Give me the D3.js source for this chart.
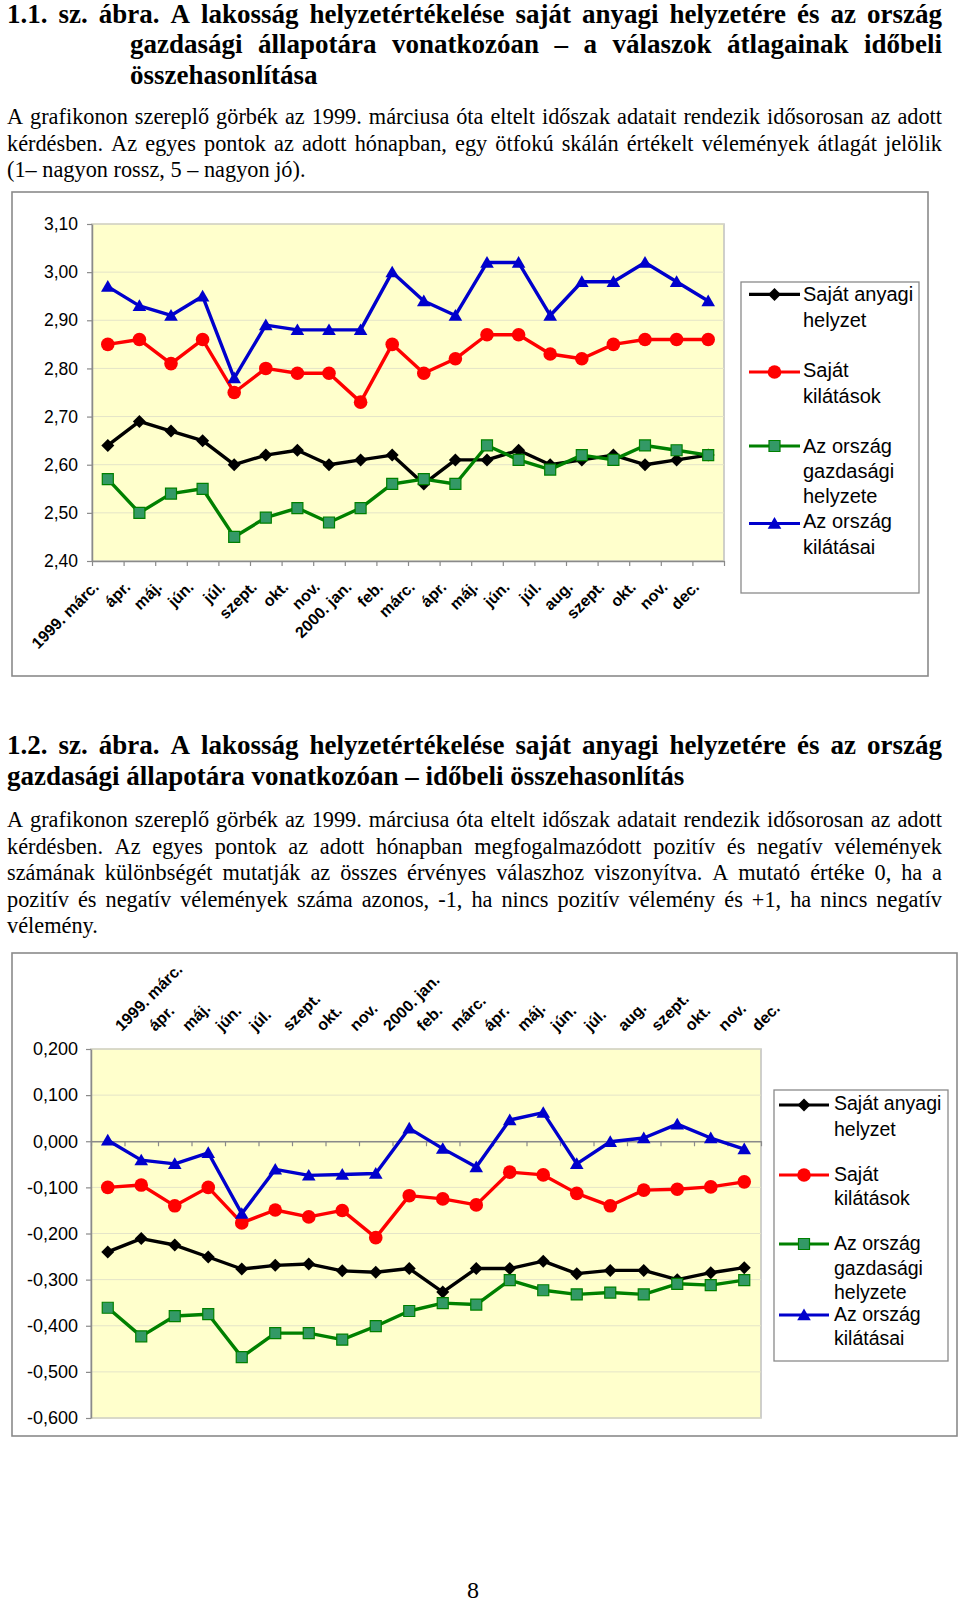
<!DOCTYPE html>
<html><head><meta charset="utf-8">
<script src="https://cdn.jsdelivr.net/npm/d3@7"></script>
<style>body{margin:0;background:#fff}svg{display:block}</style>
</head><body>
<svg id="page" width="960" height="1603"></svg>
<script>
// ---------------- DATA ----------------
const categories = ["1999. márc.","ápr.","máj.","jún.","júl.","szept.","okt.","nov.","2000. jan.","feb.","márc.","ápr.","máj.","jún.","júl.","aug.","szept.","okt.","nov.","dec."];
const seriesNames = ["Saját anyagi helyzet","Saját kilátások","Az ország gazdasági helyzete","Az ország kilátásai"];
const legendLabelLines = [["Saját anyagi","helyzet"],["Saját","kilátások"],["Az ország","gazdasági","helyzete"],["Az ország","kilátásai"]];

// Chart 1.1 – averages (1–5 scale)
const avgSajatAnyagi   = [2.64,2.69,2.67,2.65,2.60,2.62,2.63,2.60,2.61,2.62,2.56,2.61,2.61,2.63,2.60,2.61,2.62,2.60,2.61,2.62];
const avgSajatKilatas  = [2.85,2.86,2.81,2.86,2.75,2.80,2.79,2.79,2.73,2.85,2.79,2.82,2.87,2.87,2.83,2.82,2.85,2.86,2.86,2.86];
const avgOrszagGazd    = [2.57,2.50,2.54,2.55,2.45,2.49,2.51,2.48,2.51,2.56,2.57,2.56,2.64,2.61,2.59,2.62,2.61,2.64,2.63,2.62];
const avgOrszagKilatas = [2.97,2.93,2.91,2.95,2.78,2.89,2.88,2.88,2.88,3.00,2.94,2.91,3.02,3.02,2.91,2.98,2.98,3.02,2.98,2.94];
const yTicks1 = [2.40,2.50,2.60,2.70,2.80,2.90,3.00,3.10];

// Chart 1.2 – balance indicators (-1..+1)
const balSajatAnyagi   = [-0.240,-0.211,-0.225,-0.251,-0.277,-0.269,-0.266,-0.281,-0.284,-0.276,-0.327,-0.276,-0.276,-0.260,-0.287,-0.280,-0.280,-0.300,-0.285,-0.274];
const balSajatKilatas  = [-0.100,-0.095,-0.140,-0.100,-0.177,-0.149,-0.164,-0.150,-0.209,-0.118,-0.125,-0.138,-0.067,-0.073,-0.113,-0.140,-0.106,-0.104,-0.099,-0.088];
const balOrszagGazd    = [-0.361,-0.423,-0.379,-0.375,-0.468,-0.416,-0.416,-0.430,-0.401,-0.368,-0.351,-0.354,-0.301,-0.323,-0.332,-0.328,-0.332,-0.309,-0.312,-0.301];
const balOrszagKilatas = [0.002,-0.041,-0.049,-0.025,-0.157,-0.061,-0.074,-0.072,-0.070,0.028,-0.016,-0.056,0.046,0.062,-0.049,-0.001,0.007,0.037,0.007,-0.017];
const yTicks2 = [-0.6,-0.5,-0.4,-0.3,-0.2,-0.1,0,0.1,0.2];

// Texts
const title1Lines = ["1.1. sz. ábra. A lakosság helyzetértékelése saját anyagi helyzetére és az ország","gazdasági állapotára vonatkozóan – a válaszok átlagainak időbeli","összehasonlítása"];
const body1Lines = ["A grafikonon szereplő görbék az 1999. márciusa óta eltelt időszak adatait rendezik idősorosan az adott","kérdésben. Az egyes pontok az adott hónapban, egy ötfokú skálán értékelt vélemények átlagát jelölik","(1– nagyon rossz, 5 – nagyon jó)."];
const title2Lines = ["1.2. sz. ábra. A lakosság helyzetértékelése saját anyagi helyzetére és az ország","gazdasági állapotára vonatkozóan – időbeli összehasonlítás"];
const body2Lines = ["A grafikonon szereplő görbék az 1999. márciusa óta eltelt időszak adatait rendezik idősorosan az adott","kérdésben. Az egyes pontok az adott hónapban megfogalmazódott pozitív és negatív vélemények","számának különbségét mutatják az összes érvényes válaszhoz viszonyítva. A mutató értéke 0, ha a","pozitív és negatív vélemények száma azonos, -1, ha nincs pozitív vélemény és +1, ha nincs negatív","vélemény."];
const pageNumber = "8";

// ---------------- RENDER ----------------
const SERIF = "'Liberation Serif','Times New Roman',serif";
const SANS = "'Liberation Sans',Arial,sans-serif";
const svg = d3.select("#page");
svg.append("rect").attr("width",960).attr("height",1603).attr("fill","#fff");

function textLine(str, x, y, width, size, weight) {
  const t = svg.append("text").attr("y", y).attr("font-family", SERIF)
    .attr("font-size", size).attr("font-weight", weight).attr("fill", "#000");
  const words = str.split(" ");
  const spans = words.map((w, i) => t.append("tspan").attr("y", y).text(w));
  const widths = spans.map(s => s.node().getComputedTextLength());
  const total = d3.sum(widths);
  const gap = (width == null || words.length < 2) ? size * 0.25 : (width - total) / (words.length - 1);
  let cx = x;
  spans.forEach((s, i) => { s.attr("x", cx); cx += widths[i] + gap; });
  spans.forEach((s, i) => { if (i < spans.length - 1) s.text(words[i] + " "); });
}

// Title 1
textLine(title1Lines[0], 7, 22.5, 935, 27, "bold");
textLine(title1Lines[1], 130, 53, 812, 27, "bold");
textLine(title1Lines[2], 130, 83.5, null, 27, "bold");
// Body 1
textLine(body1Lines[0], 7, 124, 935, 22.3, "normal");
textLine(body1Lines[1], 7, 150.5, 935, 22.3, "normal");
textLine(body1Lines[2], 7, 177, null, 22.3, "normal");
// Title 2
textLine(title2Lines[0], 7, 754, 935, 27, "bold");
textLine(title2Lines[1], 7, 785, null, 27, "bold");
// Body 2
const b2y = [827, 853.5, 880, 906.5, 933];
body2Lines.forEach((l, i) => textLine(l, 7, b2y[i], i < body2Lines.length - 1 ? 935 : null, 22.3, "normal"));
// page number
svg.append("text").attr("x", 473).attr("y", 1598).attr("text-anchor", "middle")
  .attr("font-family", SERIF).attr("font-size", 24).text(pageNumber);

const styles = [
  { color: "#000000", marker: "diamond" },
  { color: "#ff0000", marker: "circle" },
  { color: "#008000", marker: "square" },
  { color: "#0000cc", marker: "triangle" }
];

function markerPath(type) {
  if (type === "diamond") return "M0,-6.5L6.5,0L0,6.5L-6.5,0Z";
  if (type === "triangle") return "M0,-6.5L6.8,5.2L-6.8,5.2Z";
  if (type === "square") return "M-5.5,-5.5H5.5V5.5H-5.5Z";
  return null;
}
function drawMarker(g, type, color, x, y) {
  if (type === "circle") {
    g.append("circle").attr("cx", x).attr("cy", y).attr("r", 6.8).attr("fill", "#ff0000");
  } else if (type === "square") {
    g.append("path").attr("d", markerPath(type)).attr("transform", `translate(${x},${y})`)
      .attr("fill", "#339966").attr("stroke", "#008000").attr("stroke-width", 1.2);
  } else {
    g.append("path").attr("d", markerPath(type)).attr("transform", `translate(${x},${y})`).attr("fill", color);
  }
}

function drawChart(cfg) {
  const g = svg.append("g");
  g.append("rect").attr("x", cfg.box[0]).attr("y", cfg.box[1])
    .attr("width", cfg.box[2] - cfg.box[0]).attr("height", cfg.box[3] - cfg.box[1])
    .attr("fill", "#fff").attr("stroke", "#8a8a8a").attr("stroke-width", 1.6);

  const x = d3.scaleLinear().domain([0, categories.length]).range([cfg.plot[0], cfg.plot[2]]);
  const y = d3.scaleLinear().domain(cfg.domain).range([cfg.plot[3], cfg.plot[1]]);

  g.append("rect").attr("x", cfg.plot[0]).attr("y", cfg.plot[1])
    .attr("width", cfg.plot[2] - cfg.plot[0]).attr("height", cfg.plot[3] - cfg.plot[1])
    .attr("fill", "#ffffcc").attr("stroke", "#c0c0c0").attr("stroke-width", 1.5);

  g.append("g").selectAll("line").data(cfg.ticks).join("line")
    .attr("x1", cfg.plot[0]).attr("x2", cfg.plot[2])
    .attr("y1", d => y(d)).attr("y2", d => y(d))
    .attr("stroke", "#e4e4c8").attr("stroke-width", 1);

  const ya = g.append("g").attr("transform", `translate(${cfg.plot[0]},0)`)
    .call(d3.axisLeft(y).tickValues(cfg.ticks).tickSize(5).tickSizeOuter(0).tickPadding(cfg.yPad).tickFormat(cfg.fmt));
  ya.select(".domain").attr("stroke", "#8a8a8a").attr("stroke-width", 1.5);
  ya.selectAll(".tick line").attr("stroke", "#8a8a8a").attr("stroke-width", 1.2);
  ya.selectAll(".tick text").attr("font-family", SANS).attr("font-size", cfg.yFont).attr("fill", "#000");

  const xAxisY = cfg.xAxisAt === "zero" ? y(0) : cfg.plot[3];
  const xa = g.append("g").attr("transform", `translate(0,${xAxisY})`)
    .call(d3.axisBottom(x).tickValues(d3.range(0, categories.length + 1)).tickSize(5).tickSizeOuter(0).tickFormat(""));
  xa.select(".domain").attr("stroke", "#8a8a8a").attr("stroke-width", 1.5);
  xa.selectAll(".tick line").attr("stroke", "#8a8a8a").attr("stroke-width", 1.2);

  const lab = g.append("g");
  categories.forEach((c, i) => {
    const cx = x(i + 0.5);
    let px, py, anchor;
    if (cfg.labelsTop) { px = cx + 14; py = cfg.plot[1] - 17; anchor = "start"; }
    else { px = cx - 8; py = cfg.plot[3] + 27; anchor = "end"; }
    lab.append("text").attr("transform", `translate(${px},${py}) rotate(-45)`)
      .attr("text-anchor", anchor).attr("font-family", SANS).attr("font-weight", "bold")
      .attr("font-size", 16).attr("fill", "#000").text(c);
  });

  cfg.series.forEach((vals, si) => {
    const st = styles[si];
    const line = d3.line().x((d, i) => x(i + 0.5)).y(d => y(d));
    g.append("path").datum(vals).attr("d", line).attr("fill", "none")
      .attr("stroke", st.color).attr("stroke-width", 3.4).attr("stroke-linejoin", "round");
  });
  cfg.series.forEach((vals, si) => {
    const st = styles[si];
    const mg = g.append("g");
    vals.forEach((v, i) => drawMarker(mg, st.marker, st.color, x(i + 0.5), y(v)));
  });

  const L = cfg.legend;
  g.append("rect").attr("x", L.box[0]).attr("y", L.box[1]).attr("width", L.box[2] - L.box[0])
    .attr("height", L.box[3] - L.box[1]).attr("fill", "#fff").attr("stroke", "#8a8a8a").attr("stroke-width", 1.3);
  seriesNames.forEach((name, si) => {
    const st = styles[si];
    const ly = L.lineY[si];
    g.append("line").attr("x1", L.lineX[0]).attr("x2", L.lineX[1]).attr("y1", ly).attr("y2", ly)
      .attr("stroke", st.color).attr("stroke-width", 3.2);
    drawMarker(g, st.marker, st.color, (L.lineX[0] + L.lineX[1]) / 2, ly);
    const t = g.append("text").attr("font-family", SANS).attr("font-size", L.font).attr("fill", "#000");
    legendLabelLines[si].forEach((ln, k) => {
      t.append("tspan").attr("x", L.textX).attr("y", L.textY[si][k] + 7).text(ln + (k < legendLabelLines[si].length - 1 ? " " : ""));
    });
  });
}

const fmt1 = v => v.toFixed(2).replace(".", ",");
const fmt2 = v => (v < -1e-9 ? "-" : "") + Math.abs(v).toFixed(3).replace(".", ",");

drawChart({
  box: [12, 192, 928, 676],
  plot: [92, 224, 724, 561],
  domain: [2.4, 3.1],
  ticks: yTicks1,
  fmt: fmt1,
  yPad: 9, yFont: 17.5,
  xAxisAt: "bottom",
  labelsTop: false,
  series: [avgSajatAnyagi, avgSajatKilatas, avgOrszagGazd, avgOrszagKilatas],
  legend: {
    box: [741, 282, 919, 593],
    lineX: [749, 800],
    lineY: [294.4, 372, 446, 523.5],
    textX: 803, font: 20,
    textY: [[294.4, 320], [370, 395.7], [445.8, 471.3, 495.9], [521.4, 547]]
  }
});

drawChart({
  box: [12, 953, 957, 1436],
  plot: [91, 1049, 761, 1418],
  domain: [-0.6, 0.2],
  ticks: yTicks2,
  fmt: fmt2,
  yPad: 8, yFont: 18,
  xAxisAt: "zero",
  labelsTop: true,
  series: [balSajatAnyagi, balSajatKilatas, balOrszagGazd, balOrszagKilatas],
  legend: {
    box: [774, 1090, 948, 1361],
    lineX: [779, 829],
    lineY: [1105, 1175, 1244, 1315],
    textX: 834, font: 19.5,
    textY: [[1103, 1128.8], [1173.7, 1198.3], [1243, 1267.8, 1291.5], [1313.5, 1338]]
  }
});
</script>
</body></html>
